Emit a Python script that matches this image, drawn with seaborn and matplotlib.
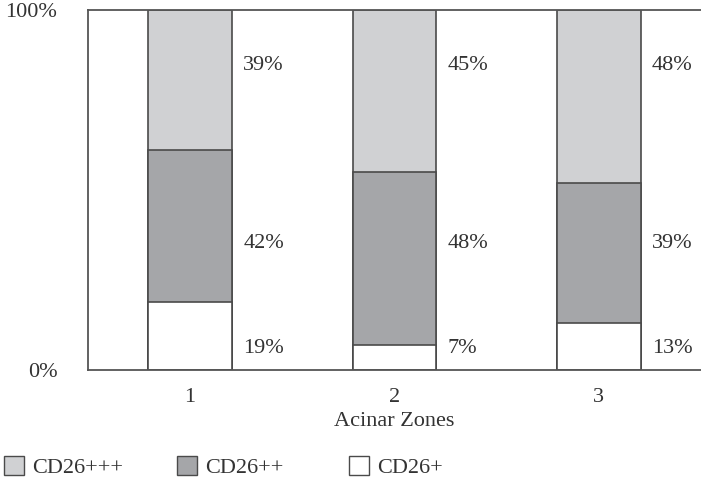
import numpy as np
import pandas as pd
import matplotlib
matplotlib.use("Agg")
import matplotlib.pyplot as plt
from matplotlib.patches import Patch
import seaborn as sns

sns.set_style("white")
plt.rcParams['font.family'] = ['Liberation Serif', 'DejaVu Serif']

zones = ['1', '2', '3']
cd26_plus = [19, 7, 13]        # CD26+
cd26_pp = [42, 48, 39]         # CD26++
cd26_ppp = [39, 45, 48]        # CD26+++
series_names = ['CD26+++', 'CD26++', 'CD26+']
colors = {'CD26+++': '#d0d1d3', 'CD26++': '#a5a6a9', 'CD26+': '#ffffff'}
edge = '#4a4a4a'
txt = '#333333'
fs = 16

df = pd.DataFrame({'zone': zones, 'CD26+': cd26_plus, 'CD26++': cd26_pp, 'CD26+++': cd26_ppp})
df['low'] = df['CD26+']
df['mid'] = df['CD26+'] + df['CD26++']
df['top'] = df['mid'] + df['CD26+++']

fig = plt.figure(figsize=(7.01, 4.8), dpi=100)
ax = fig.add_axes([88/701, 110/480, 613/701, 360/480])

# stacked by drawing cumulative totals from the top down
for col, name in [('top', 'CD26+++'), ('mid', 'CD26++'), ('low', 'CD26+')]:
    sns.barplot(data=df, x='zone', y=col, color=colors[name], saturation=1,
                width=0.41, edgecolor=edge, linewidth=1.2, ax=ax)

# percentage labels to the right of each bar, at fixed heights as in the original
bw = 0.41
label_y = {'CD26+': 6, 'CD26++': 35, 'CD26+++': 84.5}
for i in range(len(zones)):
    for name in ['CD26+', 'CD26++', 'CD26+++']:
        ax.text(i + bw/2 + 0.055, label_y[name], f'{df[name][i]}%', ha='left',
                va='center', fontsize=fs, color=txt)

ax.set_xlim(-0.5, 2.5)
ax.set_ylim(0, 100)
ax.set_yticks([0, 100])
ax.set_yticklabels(['0%', '100%'])
ax.set_xticks([-0.5, 0.5, 1.5, 2.5])
ax.set_xticklabels(['', '', '', ''])
for i, z in enumerate(zones):
    ax.text(i, -5, z, ha='center', va='top', fontsize=fs, color=txt)
ax.set_xlabel('Acinar Zones', fontsize=fs, color=txt, labelpad=19)
ax.set_ylabel('')

for s in ['left', 'bottom', 'top']:
    ax.spines[s].set_visible(True)
    ax.spines[s].set_color('#555555')
    ax.spines[s].set_linewidth(1.3)
ax.spines['right'].set_visible(False)
ax.tick_params(axis='both', direction='out', length=8, width=1.3, color='#555555',
               labelsize=fs, labelcolor=txt)
ax.tick_params(axis='y', pad=14)

# legend entries on an even pitch, one small legend each (fig.legend keeps them all)
for k, n in enumerate(series_names):
    h = Patch(facecolor=colors[n], edgecolor=edge, linewidth=1.0, label=n)
    fig.legend(handles=[h], loc='lower left', bbox_to_anchor=(k * 0.246, -0.005),
               frameon=False, fontsize=fs, handlelength=0.9, handleheight=0.9,
               handletextpad=0.35, labelcolor=txt, borderaxespad=0.0, borderpad=0.2)

fig.savefig('out.png', dpi=100)
